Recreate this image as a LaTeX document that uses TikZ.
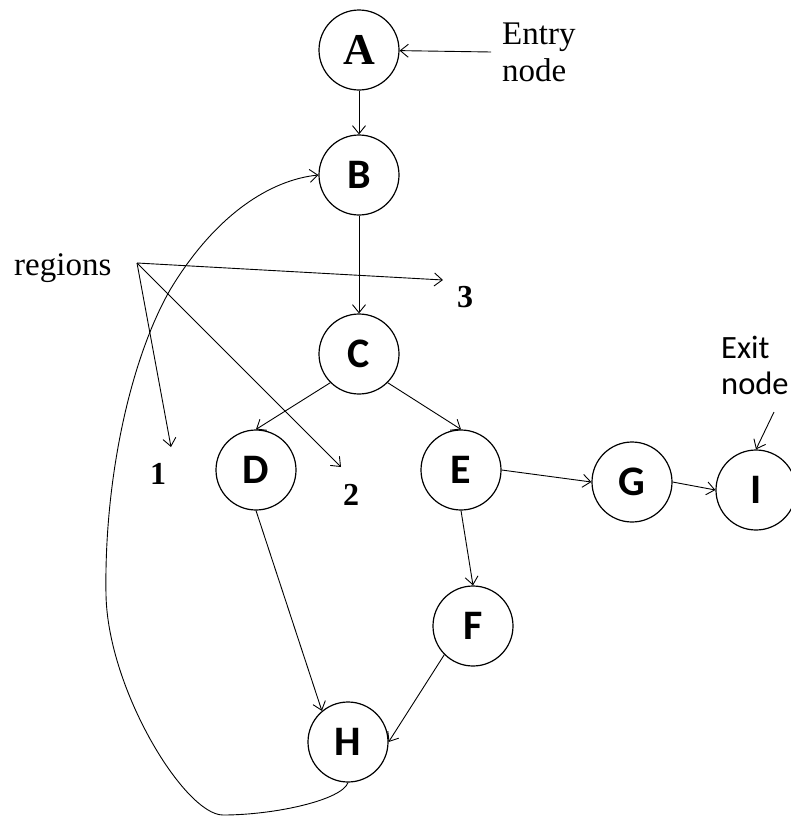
\documentclass[tikz,border=0pt]{standalone}
\usepackage{fontspec}
\setmainfont{Liberation Serif}
\newfontfamily\carlito{Carlito}
\usetikzlibrary{arrows.meta}
\begin{document}
\begin{tikzpicture}[x=1pt,y=-1pt,
  vertex/.style={draw, circle, line width=1.2pt, minimum size=80pt, inner sep=0pt,
    font=\carlito\bfseries\fontsize{42}{48}\selectfont},
  flow/.style={line width=0.9pt, -{Straight Barb[length=8pt,width=13pt,line width=0.9pt]}},
  serifnote/.style={inner sep=0pt, font=\fontsize{33}{37}\selectfont, align=left},
  sansnote/.style={inner sep=0pt, font=\carlito\fontsize{32.5}{36}\selectfont, align=left},
  regnum/.style={inner sep=0pt, font=\bfseries\fontsize{32}{36}\selectfont}]
\useasboundingbox (0,0) rectangle (791,817);
\fill[white] (0,0) rectangle (791,817);

% flow graph vertices
\node[vertex, font=\bfseries\fontsize{44}{48}\selectfont] (A) at (359,50) {A};
\node[vertex] (B) at (359,175) {B};
\node[vertex] (C) at (359,354) {C};
\node[vertex] (D) at (256,470) {D};
\node[vertex] (E) at (461,470) {E};
\node[vertex] (G) at (632,482) {G};
\node[vertex] (I) at (756,490) {I};
\node[vertex] (F) at (473,626) {F};
\node[vertex] (H) at (348,742) {H};

% annotations
\node[serifnote, anchor=north west] (entrytxt) at (502,23) {Entry\\node};
\node[sansnote, anchor=north west] (exittxt) at (721,336) {Exit\\node};
\node[serifnote, anchor=base west] (regtxt) at (14,275) {regions};
\node[regnum] (r1) at (158,474) {1};
\node[regnum] (r2) at (351,495) {2};
\node[regnum] (r3) at (465,297) {3};

\coordinate (entrypt) at (491,52);
\coordinate (exitpt) at (774,412);
\coordinate (regpt) at (137,263);
\coordinate (reg1) at (171,447);
\coordinate (reg2) at (341,467);
\coordinate (reg3) at (443,280);

% edges
\draw[flow] (entrypt) -- (A);
\draw[flow] (A.south) -- (B.north);
\draw[flow] (B.south) -- (C.north);
\draw[flow] (C.-135) -- (D.north);
\draw[flow] (C.-45) -- (E.north);
\draw[flow] (E.east) -- (G.west);
\draw[flow] (G.east) -- (I.west);
\draw[flow] (E.south) -- (F.north);
\draw[flow] (D.south) -- (H.130);
\draw[flow] (F.-135) -- (H.east);
\draw[flow] (exitpt) -- (I.north);

% back edge from H round to B
\draw[flow] (H.south) .. controls (342,800) and (275,815) .. (223,815)
  .. controls (185,815) and (108,690) .. (106,595)
  .. controls (104,480) and (130,360) .. (170,290)
  .. controls (215,215) and (270,180) .. (B.west);

% region pointers
\draw[flow] (regpt) -- (reg3);
\draw[flow] (regpt) -- (reg1);
\draw[flow] (regpt) -- (reg2);
\end{tikzpicture}
\end{document}
